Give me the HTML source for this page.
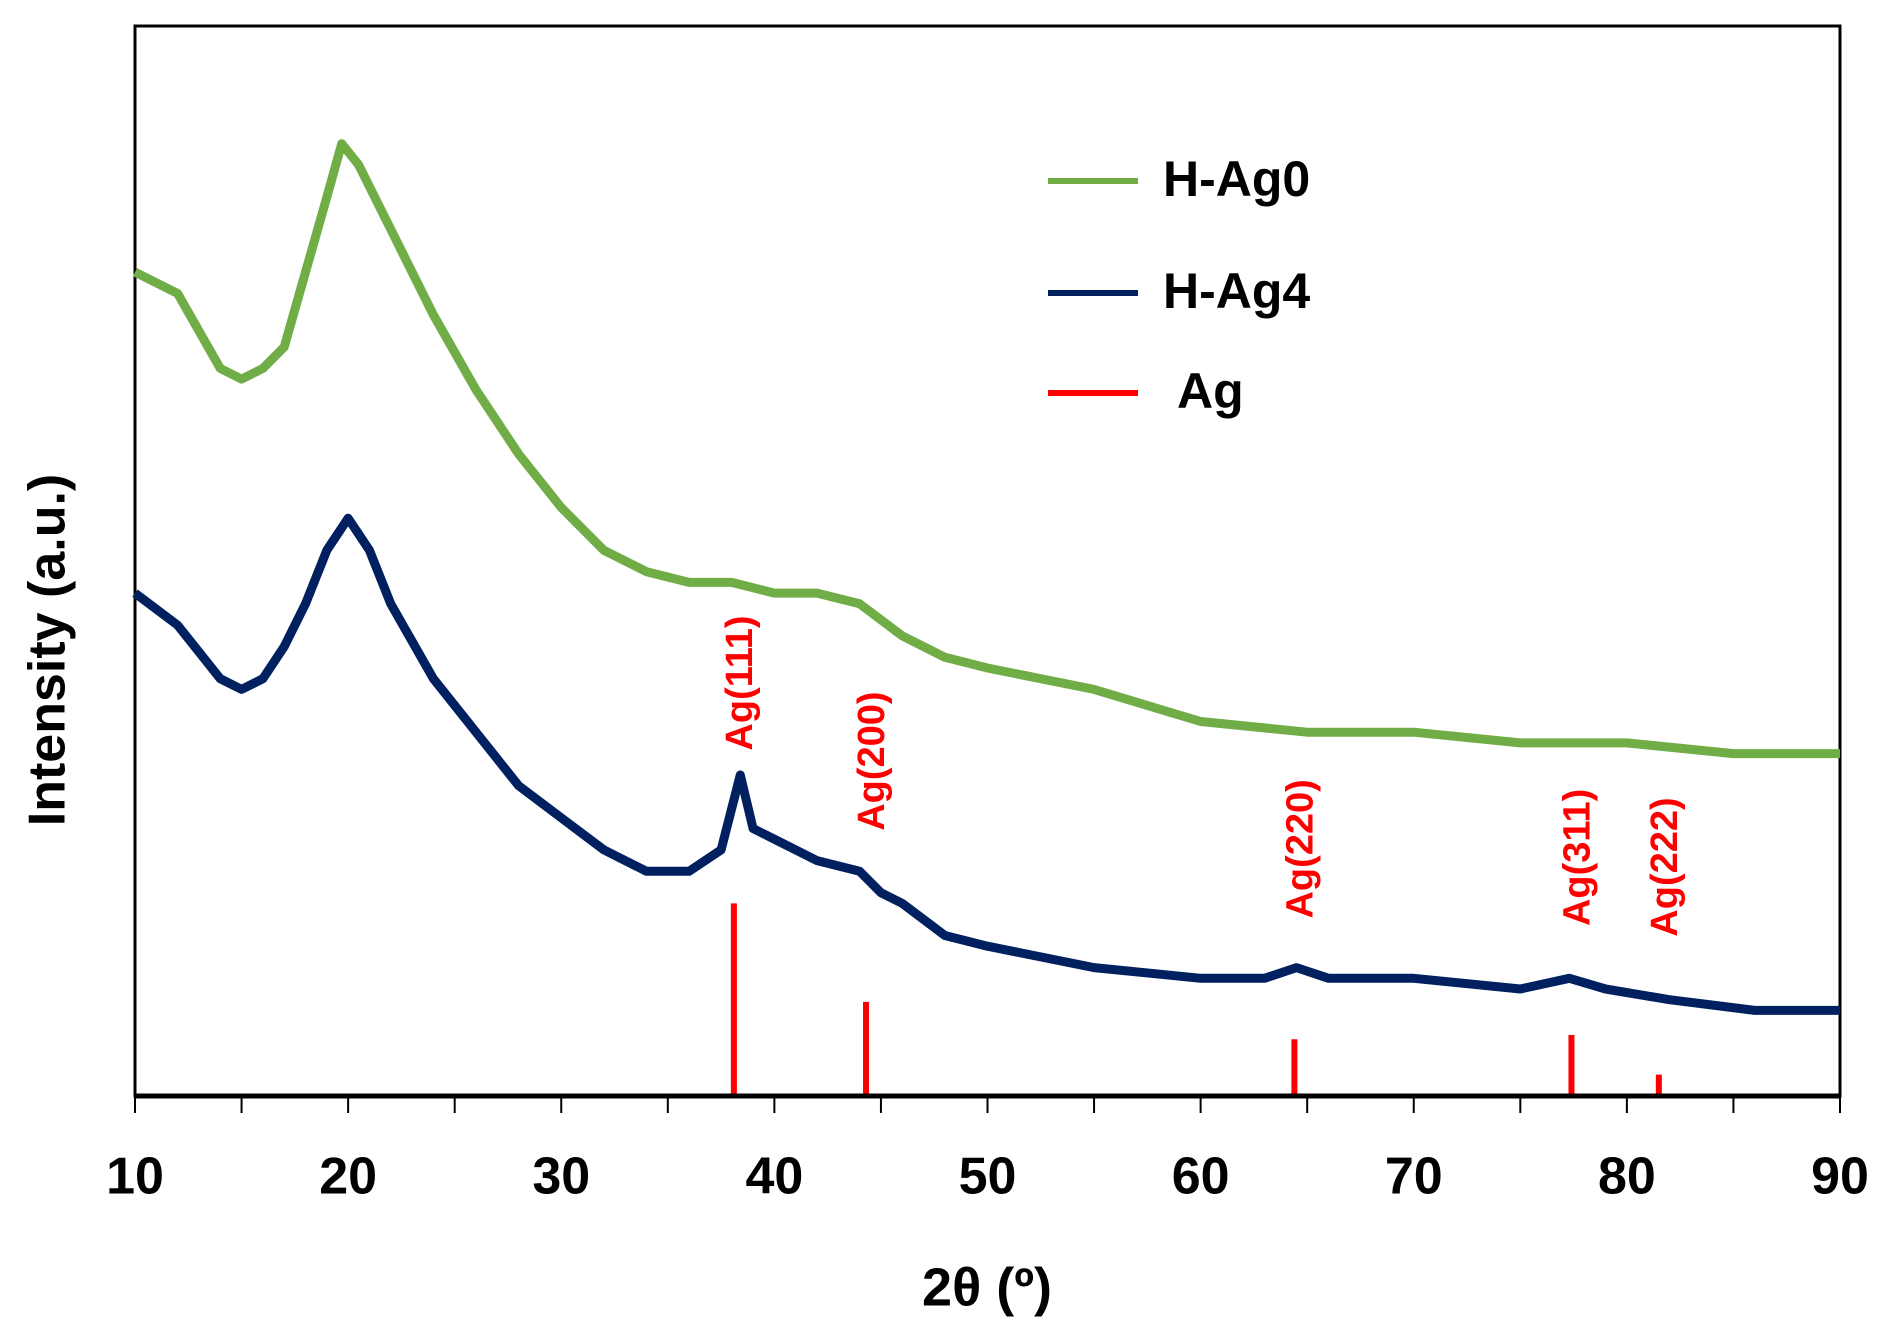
<!DOCTYPE html>
<html><head><meta charset="utf-8"><style>
body{margin:0;background:#fff}
svg{display:block;font-family:"Liberation Sans",sans-serif}
</style></head><body>
<svg id="chart" width="1889" height="1338" viewBox="0 0 1889 1338">
<rect x="135" y="26" width="1705" height="1070" fill="none" stroke="#000" stroke-width="3"/>
<g id="series"></g>
<g id="ticks"></g>
<text x="51" y="650" transform="rotate(-90 51 650)" text-anchor="middle" dominant-baseline="middle" font-size="52" font-weight="bold">Intensity (a.u.)</text>
<text x="987" y="1291" text-anchor="middle" dominant-baseline="middle" font-size="54" font-weight="bold">2θ (º)</text>
<g>
<line x1="1048" y1="181" x2="1138" y2="181" stroke="#70ad47" stroke-width="6"/>
<text x="1163" y="183" dominant-baseline="middle" font-size="50" font-weight="bold">H-Ag0</text>
<line x1="1048" y1="293" x2="1138" y2="293" stroke="#002060" stroke-width="6"/>
<text x="1163" y="295" dominant-baseline="middle" font-size="50" font-weight="bold">H-Ag4</text>
<line x1="1048" y1="393" x2="1138" y2="393" stroke="#ff0000" stroke-width="6"/>
<text x="1177" y="395" dominant-baseline="middle" font-size="50" font-weight="bold">Ag</text>
</g>
</svg>
<script>
const greenX=[10,12,14,15,16,17,18,19,19.7,20.5,22,24,26,28,30,32,34,36,38,40,42,44,46,48,50,55,60,65,70,75,80,85,90];
const greenY=[77,75,68,67,68,70,77,84,89,87,81,73,66,60,55,51,49,48,48,47,47,46,43,41,40,38,35,34,34,33,33,32,32];
const blueX=[10,12,14,15,16,17,18,19,20,21,22,24,26,28,30,32,34,36,37.5,38.4,39,40,42,44,45,46,48,50,55,60,63,64.5,66,70,75,77.3,79,82,86,90];
const blueY=[47,44,39,38,39,42,46,51,54,51,46,39,34,29,26,23,21,21,23,30,25,24,22,21,19,18,15,14,12,11,11,12,11,11,10,11,10,9,8,8];
const agX=[38.1,44.3,64.4,77.4,81.5];
const agH=[18,8.8,5.3,5.7,2];
const agLabels=["Ag(111)","Ag(200)","Ag(220)","Ag(311)","Ag(222)"];
const agLabelY=[38.6,31.3,23.1,22.3,21.4];
const xTicks=[10,20,30,40,50,60,70,80,90];
const NS='http://www.w3.org/2000/svg';
const X=v=>135+(v-10)/80*1705;
const Y=v=>1096-v/100*1070;
const ser=document.getElementById('series'),tk=document.getElementById('ticks');
function line(xs,ys,col,name){
 const p=document.createElementNS(NS,'polyline');
 p.setAttribute('points',xs.map((x,i)=>X(x)+','+Y(ys[i])).join(' '));
 p.setAttribute('fill','none');p.setAttribute('stroke',col);p.setAttribute('stroke-width','9');p.setAttribute('stroke-linejoin','round');
 
 
 ser.appendChild(p);
}
line(greenX,greenY,'#70ad47','h-ag0-line');
line(blueX,blueY,'#002060','h-ag4-line');
agX.forEach((x,i)=>{
 const l=document.createElementNS(NS,'line');
 l.setAttribute('x1',X(x));l.setAttribute('x2',X(x));l.setAttribute('y1',Y(0));l.setAttribute('y2',Y(agH[i]));
 l.setAttribute('stroke','#ff0000');l.setAttribute('stroke-width','6');
 
 
 ser.appendChild(l);
 const t=document.createElementNS(NS,'text');
 const tx=X(x)+8, ty=Y(agLabelY[i]);
 t.setAttribute('x',tx);t.setAttribute('y',ty);t.setAttribute('transform','rotate(-90 '+tx+' '+ty+')');
 t.setAttribute('text-anchor','middle');t.setAttribute('dominant-baseline','middle');
 t.setAttribute('font-size','38');t.setAttribute('font-weight','bold');t.setAttribute('fill','#ff0000');
 t.textContent=agLabels[i];
 
 
 ser.appendChild(t);
});
for(let v=10;v<=90;v+=5){
 const l=document.createElementNS(NS,'line');
 l.setAttribute('x1',X(v));l.setAttribute('x2',X(v));l.setAttribute('y1',1096);l.setAttribute('y2',1113);
 l.setAttribute('stroke','#000');l.setAttribute('stroke-width','2');
 
 
 tk.appendChild(l);
}
xTicks.forEach(v=>{
 const t=document.createElementNS(NS,'text');
 t.setAttribute('x',X(v));t.setAttribute('y',1180);t.setAttribute('text-anchor','middle');t.setAttribute('dominant-baseline','middle');
 t.setAttribute('font-size','52');t.setAttribute('font-weight','bold');
 t.textContent=v;
 
 
 tk.appendChild(t);
});
const ax=document.createElementNS(NS,'line');
ax.setAttribute('x1',135);ax.setAttribute('x2',1840);ax.setAttribute('y1',1096);ax.setAttribute('y2',1096);ax.setAttribute('stroke','#000');ax.setAttribute('stroke-width','5');


tk.appendChild(ax);
</script>
</body></html>
